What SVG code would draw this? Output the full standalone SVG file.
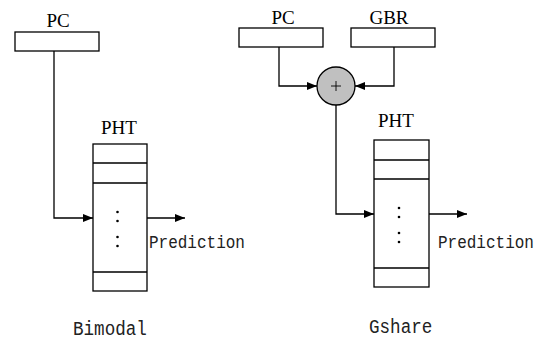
<svg xmlns="http://www.w3.org/2000/svg" width="539" height="342" viewBox="0 0 539 342">
<style>
.box{fill:#fff;stroke:#000;stroke-width:1.3}
.ln{fill:none;stroke:#000;stroke-width:1.3}
.lbl{font-family:"Liberation Serif",serif;font-size:19px;fill:#000;text-anchor:middle}
.mono{font-family:"Liberation Mono",monospace;fill:#222}
.dot{fill:#000}
</style>
<defs>
<marker id="ah" viewBox="0 0 10 8" refX="10" refY="4" markerWidth="10" markerHeight="8" markerUnits="userSpaceOnUse" orient="auto">
<path d="M0,0 L10,4 L0,8 Z" fill="#000"/>
</marker>
</defs>
<rect width="539" height="342" fill="#fff"/>
<g id="connectors">
<path class="ln" d="M54,51 V218 H93" marker-end="url(#ah)"/>
<path class="ln" d="M147,218 H185" marker-end="url(#ah)"/>
<path class="ln" d="M279,47 V86 H317" marker-end="url(#ah)"/>
<path class="ln" d="M394,47 V86 H355" marker-end="url(#ah)"/>
<path class="ln" d="M336,105 V214 H374" marker-end="url(#ah)"/>
<path class="ln" d="M429,214 H467" marker-end="url(#ah)"/>
</g>
<g id="pc-left">
<rect class="box" x="15" y="32" width="84" height="19"/>
<text class="lbl" x="58" y="27">PC</text>
</g>
<g id="pht-left">
<text class="lbl" x="119" y="134">PHT</text>
<rect class="box" x="93" y="144" width="54" height="147"/>
<path class="ln" d="M93,163 H147 M93,183 H147 M93,272 H147"/>
<circle class="dot" cx="117.5" cy="212" r="1.3"/>
<circle class="dot" cx="117.5" cy="221" r="1.3"/>
<circle class="dot" cx="117.5" cy="237" r="1.3"/>
<circle class="dot" cx="117.5" cy="246" r="1.3"/>
</g>
<text class="mono" font-size="16" transform="translate(149,248) scale(1,1.2)">Prediction</text>
<text class="mono" font-size="17.6" transform="translate(73,335) scale(1,1.2)">Bimodal</text>
<g id="pc-right">
<rect class="box" x="239" y="28" width="84" height="19"/>
<text class="lbl" x="283" y="24">PC</text>
</g>
<g id="gbr">
<rect class="box" x="351" y="28" width="84" height="19"/>
<text class="lbl" x="389" y="24">GBR</text>
</g>
<g id="xor">
<circle cx="336" cy="86" r="19" fill="#c0c0c0" stroke="#000" stroke-width="1.3"/>
<path d="M331,86 H341 M336,81 V91" stroke="#000" stroke-width="0.9"/>
</g>
<g id="pht-right">
<text class="lbl" x="396" y="127">PHT</text>
<rect class="box" x="374" y="140" width="55" height="147"/>
<path class="ln" d="M374,160 H429 M374,179 H429 M374,268 H429"/>
<circle class="dot" cx="399" cy="208" r="1.3"/>
<circle class="dot" cx="399" cy="217" r="1.3"/>
<circle class="dot" cx="399" cy="233" r="1.3"/>
<circle class="dot" cx="399" cy="242" r="1.3"/>
</g>
<text class="mono" font-size="16" transform="translate(438,248) scale(1,1.2)">Prediction</text>
<text class="mono" font-size="17.6" transform="translate(369,333) scale(1,1.2)">Gshare</text>
</svg>
